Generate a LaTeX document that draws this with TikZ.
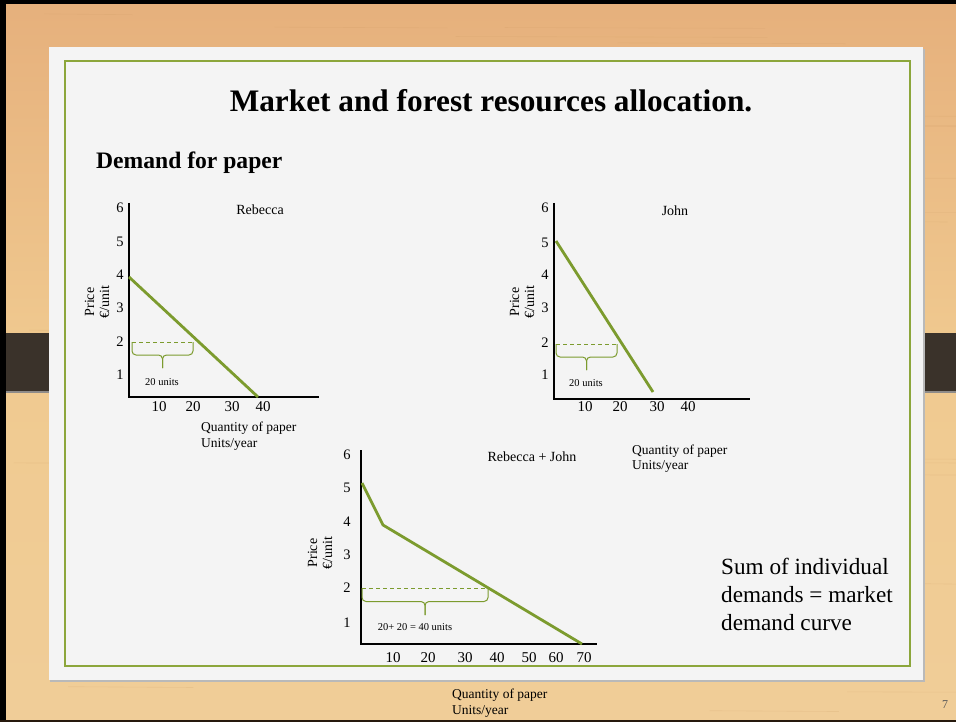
\documentclass[tikz,border=0pt]{standalone}
\usepackage{fontspec}
\setmainfont{Liberation Serif}
\definecolor{woodtop}{HTML}{E6B07C}
\definecolor{woodmid}{HTML}{F0CA90}
\definecolor{woodbot}{HTML}{F0CD98}
\definecolor{grain}{HTML}{C9965E}
\definecolor{panel}{HTML}{F4F4F4}
\definecolor{framegreen}{HTML}{8CA63B}
\definecolor{curvegreen}{HTML}{7C9B2E}
\definecolor{barbrown}{HTML}{3A322A}
\definecolor{capgray}{HTML}{5E5A57}
% flat curly brace hanging below a dashed guide: left x, right x, top y, drop
\newcommand{\flatbrace}[4]{%
  \pgfmathsetmacro\bracemid{(#1+#2)/2}%
  \draw[bracket] (#1,#3) -- (#1,#3+#4) -- (\bracemid,#3+#4) -- (\bracemid,#3+2*#4);
  \draw[bracket] (#2,#3) -- (#2,#3+#4) -- (\bracemid,#3+#4) -- (\bracemid,#3+2*#4);
}
\begin{document}
\begin{tikzpicture}[x=1pt,y=-1pt,
  tickY/.style={font=\fontsize{14.5}{16}\selectfont, inner sep=0pt},
  tickX/.style={font=\fontsize{15}{17}\selectfont, inner sep=0pt},
  captionline/.style={font=\fontsize{13.5}{16}\selectfont, inner sep=0pt, anchor=west},
  nametag/.style={font=\fontsize{14}{16}\selectfont, inner sep=0pt},
  ylabel/.style={font=\fontsize{14}{15}\selectfont, align=center, rotate=90, inner sep=0pt},
  axisline/.style={line width=1.2pt, black},
  demand/.style={line width=2.8pt, curvegreen},
  guide/.style={draw=curvegreen, line width=0.9pt, dash pattern=on 4pt off 3pt},
  bracket/.style={draw=curvegreen, line width=1pt, rounded corners=4pt},
  smalltext/.style={font=\fontsize{10.5}{12}\selectfont, inner sep=0pt},
]
\useasboundingbox (0,0) rectangle (956,722);

% wooden backdrop
\shade[top color=woodtop, bottom color=woodbot, middle color=woodmid]
  (0,0) rectangle (956,722);
\pgfmathsetseed{7}
\foreach \i in {1,...,70}{
  \pgfmathsetmacro\gy{rnd*722}
  \pgfmathsetmacro\gx{rnd*900}
  \pgfmathsetmacro\gl{60+rnd*260}
  \draw[grain, opacity=0.18, line width=0.6pt] (\gx,\gy) -- ++(\gl,0.8);
}

% dark edges of the slide
\fill[black] (0,0) rectangle (6,722);
\fill[black] (0,0) rectangle (956,4);
\fill[black!80!brown] (0,720) rectangle (956,722);

% side tabs
\fill[capgray, rounded corners=2pt] (73,328) rectangle (79,398);
\fill[barbrown] (6,333) rectangle (76,393);
\fill[capgray!70] (6,391) rectangle (76,393);
\fill[capgray, rounded corners=2pt] (894,328) rectangle (900,398);
\fill[barbrown] (897,333) rectangle (956,393);
\fill[capgray!70] (897,391) rectangle (956,393);

% white sheet with green rule
\fill[gray!55] (50,49) rectangle (925,682);
\fill[panel] (49,47) rectangle (923,680);
\draw[framegreen, line width=1.6pt] (65,61) rectangle (910,666);

% headings
\node[font=\fontsize{31.3}{35}\selectfont\bfseries, inner sep=0pt] (title) at (491,101)
  {Market and forest resources allocation.};
\node[font=\fontsize{23.6}{26}\selectfont\bfseries, inner sep=0pt, anchor=west] (subtitle)
  at (96,163) {Demand for paper};

% ---------- Rebecca ----------
\coordinate (rO) at (129,397);
\coordinate (rT) at (129,203);
\coordinate (rR) at (319,397);
\draw[axisline] (rT) -- (rO) -- (rR);
\coordinate (rA) at (129,277);
\coordinate (rB) at (258,397);
\draw[demand] (rA) -- (rB);
\coordinate (rD1) at (132,342);
\coordinate (rD2) at (193,342);
\draw[guide] (rD1) -- (rD2);
\flatbrace{132}{193}{342}{13}
\node[smalltext] (rUnits) at (162,382) {20 units};
\foreach \v/\yy in {6/208,5/242,4/275,3/308,2/342,1/375}
  \node[tickY] (rY\v) at (120,\yy) {\v};
\foreach \v/\xx in {10/159,20/193,30/232,40/263}
  \node[tickX] (rX\v) at (\xx,407) {\v};
\node[nametag] (rName) at (260,210) {Rebecca};
\node[ylabel] (rPrice) at (97,302) {Price\\€/unit};
\node[captionline] (rQ1) at (201,428) {Quantity of paper};
\node[captionline] (rQ2) at (201,444) {Units/year};

% ---------- John ----------
\coordinate (jO) at (554,399);
\coordinate (jT) at (554,203);
\coordinate (jR) at (750,399);
\draw[axisline] (jT) -- (jO) -- (jR);
\coordinate (jA) at (556,241);
\coordinate (jB) at (653,392);
\draw[demand] (jA) -- (jB);
\coordinate (jD1) at (556,344);
\coordinate (jD2) at (617,344);
\draw[guide] (jD1) -- (jD2);
\flatbrace{556}{617}{344}{13}
\node[smalltext] (jUnits) at (586,383) {20 units};
\foreach \v/\yy in {6/208,5/243,4/275,3/308,2/343,1/375}
  \node[tickY] (jY\v) at (545,\yy) {\v};
\foreach \v/\xx in {10/585,20/620,30/657,40/688}
  \node[tickX] (jX\v) at (\xx,407) {\v};
\node[nametag] (jName) at (675,211) {John};
\node[ylabel] (jPrice) at (522,302) {Price\\€/unit};
\node[captionline] (jQ1) at (632,451) {Quantity of paper};
\node[captionline] (jQ2) at (632,466) {Units/year};

% ---------- Rebecca + John ----------
\coordinate (mO) at (361,644);
\coordinate (mT) at (361,450);
\coordinate (mR) at (597,644);
\draw[axisline] (mT) -- (mO) -- (mR);
\coordinate (mA) at (362,483);
\coordinate (mK) at (383,525);
\coordinate (mB) at (582,644);
\draw[demand] (mA) -- (mK) -- (mB);
\coordinate (mD1) at (362,588);
\coordinate (mD2) at (488,588);
\draw[guide] (mD1) -- (mD2);
\flatbrace{362}{488}{588}{13.5}
\node[smalltext] (mUnits) at (415,627) {20+ 20 = 40 units};
\foreach \v/\yy in {6/455,5/488,4/522,3/555,2/588,1/623}
  \node[tickY] (mY\v) at (347,\yy) {\v};
\foreach \v/\xx in {10/393,20/428,30/465,40/497,50/529,60/556,70/584}
  \node[tickX] (mX\v) at (\xx,658) {\v};
\node[nametag] (mName) at (532,457) {Rebecca + John};
\node[ylabel] (mPrice) at (320,553) {Price\\€/unit};
\node[captionline] (mQ1) at (452,695) {Quantity of paper};
\node[captionline] (mQ2) at (452,711) {Units/year};

% remark and page number
\node[font=\fontsize{23.2}{28}\selectfont, align=left, inner sep=0pt, anchor=west] (remark)
  at (721,594) {Sum of individual\\demands = market\\demand curve};
\node[font=\fontsize{12}{14}\selectfont, text=black!65, inner sep=0pt] (page) at (945,705) {7};
\end{tikzpicture}
\end{document}
